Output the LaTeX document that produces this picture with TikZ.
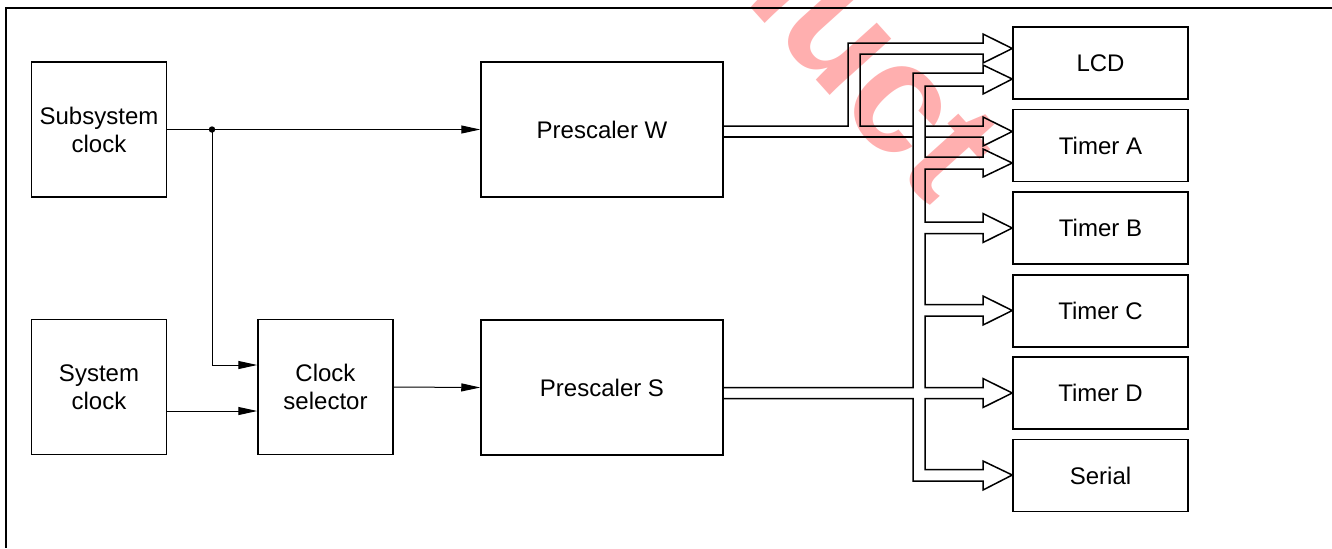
\documentclass[tikz,border=0pt]{standalone}
\usepackage{fontspec}
\setmainfont{Liberation Sans}
\usetikzlibrary{arrows.meta,calc}
\definecolor{wm}{RGB}{255,175,175}
\begin{document}
\begin{tikzpicture}[x=0.5pt,y=-0.5pt,
  box/.style={draw,line width=0.75pt,align=center,inner sep=0pt,
    font=\fontsize{12pt}{14pt}\selectfont},
  bigbox/.style={box,minimum width=67.5pt,minimum height=67.5pt},
  prebox/.style={box,minimum width=121pt,minimum height=67.5pt},
  outbox/.style={box,minimum width=87.5pt,minimum height=36pt},
  arr/.style={line width=0.5pt,-{Triangle[length=9.5pt,width=4pt]}},
  bus/.style={line width=0.75pt,line join=miter}]
\useasboundingbox (0,0) rectangle (1332,548);
% watermark
\begin{scope}
\clip (0,0) rectangle (1332,548);
\node[rotate=-48,anchor=base east,text=wm,inner sep=0pt,
  font=\bfseries\fontsize{79pt}{79pt}\selectfont] (wmk) at (931,208) {duct};
\end{scope}
% frame
\draw[line width=1pt] (1332,8) -- (6,8) -- (6,548);
% blocks
\node[bigbox] (sub) at (99,129.5) {Subsystem\\clock};
\node[bigbox] (sys) at (99,387) {System\\clock};
\node[bigbox] (sel) at (325.5,387) {Clock\\selector};
\node[prebox] (pw) at (602,129.5) {Prescaler W};
\node[prebox] (ps) at (602,387.5) {Prescaler S};
\node[outbox] (lcd) at (1100.5,63) {LCD};
\node[outbox] (ta) at (1100.5,145.5) {Timer A};
\node[outbox] (tb) at (1100.5,228) {Timer B};
\node[outbox] (tc) at (1100.5,311) {Timer C};
\node[outbox] (td) at (1100.5,393) {Timer D};
\node[outbox] (se) at (1100.5,475.5) {Serial};
% thin connectors
\coordinate (j) at (212,129.5);
\draw[arr] (sub.east) -- (pw.west);
\fill (j) circle (1.6pt);
\draw[arr] (j) |- ($(sel.west)+(0,-22)$);
\draw[arr] ($(sys.east)+(0,24)$) -- ($(sel.west)+(0,24)$);
\draw[arr] (sel.east) -- (ps.west);
% bus from prescaler W
\draw[bus] ($(pw.east)+(0,-3.5)$) -- (848,126) -- (848,43) -- (983,43)
  -- (983,34) -- ($(lcd.west)+(0,-14.5)$) -- (983,63) -- (983,54)
  -- (860,54) -- (860,126) -- (913,126);
\draw[bus] (925,126) -- (983,126) -- (983,117) -- ($(ta.west)+(0,-14)$)
  -- (983,146) -- (983,137) -- (925,137);
\draw[bus] (913,137) -- ($(pw.east)+(0,7.5)$);
% bus from prescaler S
\draw[bus] ($(ps.east)+(0,0)$) -- (913,387.5) -- (913,73) -- (983,73)
  -- (983,65) -- ($(lcd.west)+(0,16)$) -- (983,94) -- (983,86)
  -- (925,86) -- (925,157) -- (983,157)
  -- (983,149) -- ($(ta.west)+(0,17.5)$) -- (983,177) -- (983,169)
  -- (925,169) -- (925,222) -- (983,222)
  -- (983,213.5) -- (tb.west) -- (983,242.5) -- (983,233.5)
  -- (925,233.5) -- (925,304.5) -- (983,304.5)
  -- (983,296) -- ($(tc.west)+(0,-0.5)$) -- (983,325) -- (983,316)
  -- (925,316) -- (925,387.5) -- (983,387.5)
  -- (983,378.5) -- (td.west) -- (983,407.5) -- (983,398.5)
  -- (925,398.5) -- (925,469.5) -- (983,469.5)
  -- (983,461) -- ($(se.west)+(0,-0.5)$) -- (983,490) -- (983,481)
  -- (913,481) -- (913,398.5) -- (ps.east |- 913,398.5);
\end{tikzpicture}
\end{document}
